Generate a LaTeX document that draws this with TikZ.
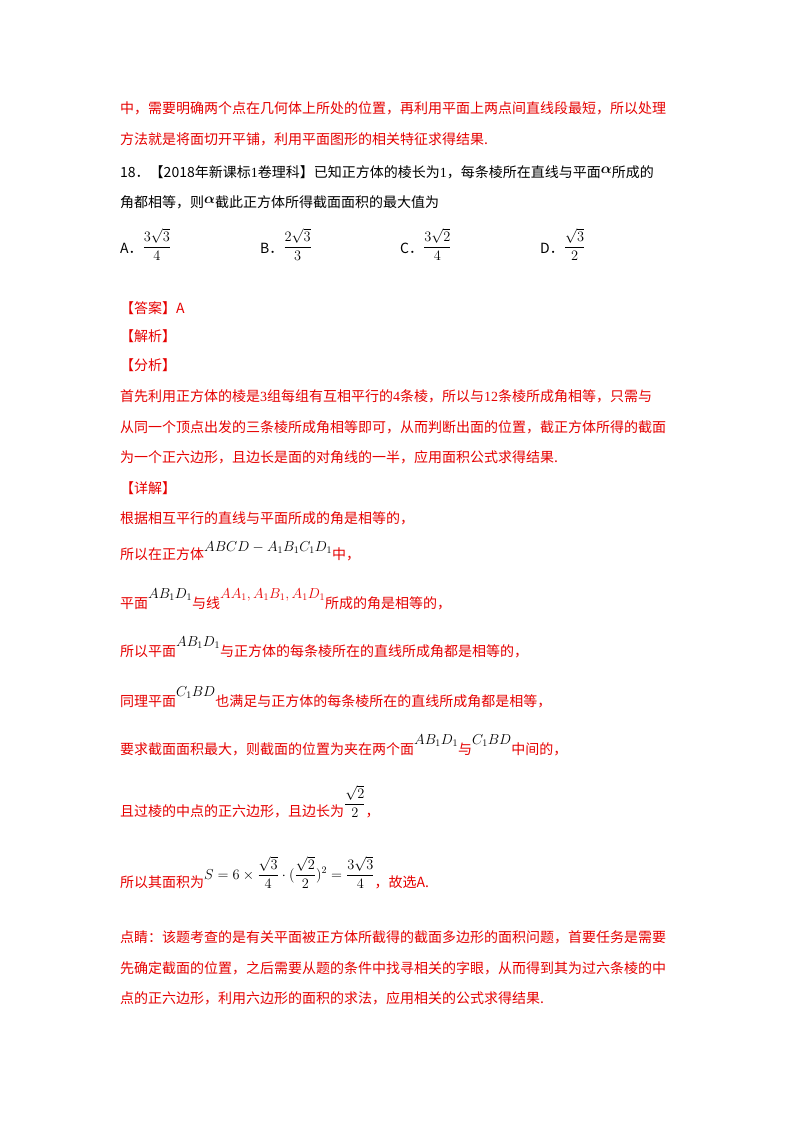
\documentclass[tikz,border=0pt]{standalone}
\usepackage{fontspec}
\usepackage{amsmath}
\setmainfont{Noto Sans CJK SC}
\newfontfamily\tnr{Liberation Serif}
\definecolor{rd}{RGB}{230,0,0}
\newcommand{\fm}[2][6]{\raisebox{#1pt}{$#2$}}
\begin{document}
\begin{tikzpicture}[x=1pt,y=1pt,
  t/.style={anchor=base west,inner sep=0pt,font=\fontsize{14}{17}\selectfont},
  r/.style={t,text=rd}]
\useasboundingbox (0,0) rectangle (800,-1132);
\fill[white] (0,0) rectangle (800,-1132);
\node[r] (l1) at (120,-113) {中，需要明确两个点在几何体上所处的位置，再利用平面上两点间直线段最短，所以处理};
\node[r] (l2) at (120,-144) {方法就是将面切开平铺，利用平面图形的相关特征求得结果.};
\node[t] (l3) at (120,-177) {18．【2018年新课标{\tnr 1}卷理科】已知正方体的棱长为{\tnr 1}，每条棱所在直线与平面\fm[4]{\boldsymbol{\alpha}}所成的};
\node[t] (l4) at (120,-207) {角都相等，则\fm[4]{\boldsymbol{\alpha}}截此正方体所得截面面积的最大值为};
\node[t] (oa) at (120,-253) {A．\fm[2]{\dfrac{3\sqrt3}{4}}};
\node[t] (ob) at (260,-253) {B．\fm[2]{\dfrac{2\sqrt3}{3}}};
\node[t] (oc) at (400,-253) {C．\fm[2]{\dfrac{3\sqrt2}{4}}};
\node[t] (od) at (540,-253) {D．\fm[2]{\dfrac{\sqrt3}{2}}};
\node[r] (a1) at (120,-313) {【答案】A};
\node[r] (a2) at (120,-341) {【解析】};
\node[r] (a3) at (120,-370) {【分析】};
\node[r] (a4) at (120,-401) {首先利用正方体的棱是{\tnr 3}组每组有互相平行的{\tnr 4}条棱，所以与{\tnr 12}条棱所成角相等，只需与};
\node[r] (a5) at (120,-432) {从同一个顶点出发的三条棱所成角相等即可，从而判断出面的位置，截正方体所得的截面};
\node[r] (a6) at (120,-462) {为一个正六边形，且边长是面的对角线的一半，应用面积公式求得结果.};
\node[r] (a7) at (120,-493) {【详解】};
\node[r] (b1) at (120,-523) {根据相互平行的直线与平面所成的角是相等的，};
\node[r] (b2) at (120,-559) {所以在正方体\fm[8]{\color{black}ABCD-A_1B_1C_1D_1}中，};
\node[r] (b3) at (120,-608) {平面\fm[10]{\color{black}AB_1D_1}与线\fm[10]{AA_1,A_1B_1,A_1D_1}所成的角是相等的，};
\node[r] (b4) at (120,-656) {所以平面\fm[10]{\color{black}AB_1D_1}与正方体的每条棱所在的直线所成角都是相等的，};
\node[r] (b5) at (120,-706) {同理平面\fm[10]{\color{black}C_1BD}也满足与正方体的每条棱所在的直线所成角都是相等，};
\node[r] (b6) at (120,-754) {要求截面面积最大，则截面的位置为夹在两个面\fm[10]{\color{black}AB_1D_1}与\fm[10]{\color{black}C_1BD}中间的，};
\node[r] (b7) at (120,-816) {且过棱的中点的正六边形，且边长为\fm[8]{\color{black}\dfrac{\sqrt2}{2}}，};
\node[r] (b8) at (120,-887) {所以其面积为\fm[8]{\color{black}S=6\times\dfrac{\sqrt3}{4}\cdot(\dfrac{\sqrt2}{2})^2=\dfrac{3\sqrt3}{4}}，故选A.};
\node[r] (c1) at (120,-942) {点睛：该题考查的是有关平面被正方体所截得的截面多边形的面积问题，首要任务是需要};
\node[r] (c2) at (120,-973) {先确定截面的位置，之后需要从题的条件中找寻相关的字眼，从而得到其为过六条棱的中};
\node[r] (c3) at (120,-1003) {点的正六边形，利用六边形的面积的求法，应用相关的公式求得结果.};
\end{tikzpicture}
\end{document}
